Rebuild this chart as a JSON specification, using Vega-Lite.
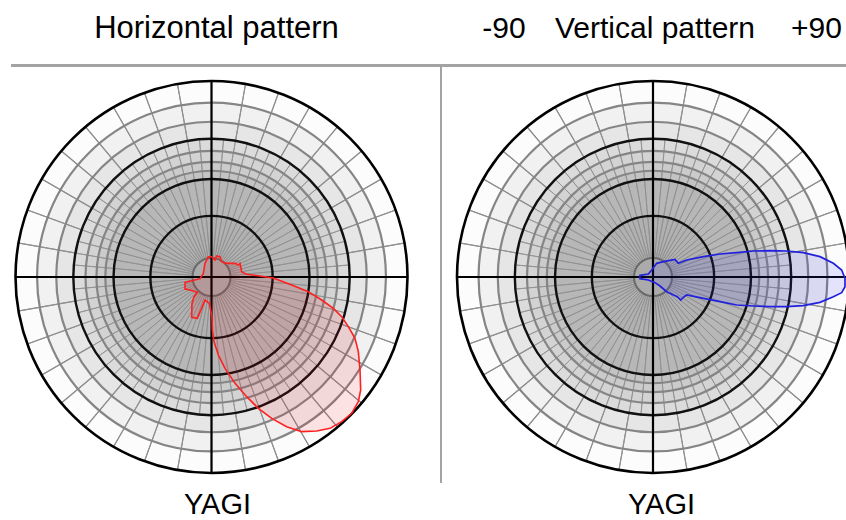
{
  "$schema": "https://vega.github.io/schema/vega-lite/v6.json",
  "width": 846,
  "height": 520,
  "autosize": "none",
  "padding": 0,
  "background": "white",
  "config": {"view": {"stroke": null}, "axis": {"disable": true}},
  "datasets": {
    "bands": [
      {"ri": 0.89, "ro": 1.0, "s": "A"},
      {"ri": 0.792, "ro": 0.89, "s": "B"},
      {"ri": 0.705, "ro": 0.792, "s": "C"},
      {"ri": 0.643, "ro": 0.705, "s": "D"},
      {"ri": 0.587, "ro": 0.643, "s": "E"},
      {"ri": 0.542, "ro": 0.587, "s": "F"},
      {"ri": 0.5, "ro": 0.542, "s": "G"},
      {"ri": 0.312, "ro": 0.5, "s": "H"},
      {"ri": 0.097, "ro": 0.312, "s": "I"},
      {"ri": 0, "ro": 0.097, "s": "J"}
    ],
    "rings": [
      {"r": 1.0, "k": "outer"},
      {"r": 0.89, "k": "minor"},
      {"r": 0.792, "k": "minor"},
      {"r": 0.705, "k": "major"},
      {"r": 0.643, "k": "minor"},
      {"r": 0.587, "k": "minor"},
      {"r": 0.542, "k": "minor"},
      {"r": 0.5, "k": "major"},
      {"r": 0.312, "k": "major"},
      {"r": 0.097, "k": "center"}
    ],
    "s5": [
      {"a":0,"b":5},{"a":5,"b":10},{"a":10,"b":15},{"a":15,"b":20},{"a":20,"b":25},{"a":25,"b":30},
      {"a":30,"b":35},{"a":35,"b":40},{"a":40,"b":45},{"a":45,"b":50},{"a":50,"b":55},{"a":55,"b":60},
      {"a":60,"b":65},{"a":65,"b":70},{"a":70,"b":75},{"a":75,"b":80},{"a":80,"b":85},{"a":85,"b":90},
      {"a":90,"b":95},{"a":95,"b":100},{"a":100,"b":105},{"a":105,"b":110},{"a":110,"b":115},{"a":115,"b":120},
      {"a":120,"b":125},{"a":125,"b":130},{"a":130,"b":135},{"a":135,"b":140},{"a":140,"b":145},{"a":145,"b":150},
      {"a":150,"b":155},{"a":155,"b":160},{"a":160,"b":165},{"a":165,"b":170},{"a":170,"b":175},{"a":175,"b":180},
      {"a":180,"b":185},{"a":185,"b":190},{"a":190,"b":195},{"a":195,"b":200},{"a":200,"b":205},{"a":205,"b":210},
      {"a":210,"b":215},{"a":215,"b":220},{"a":220,"b":225},{"a":225,"b":230},{"a":230,"b":235},{"a":235,"b":240},
      {"a":240,"b":245},{"a":245,"b":250},{"a":250,"b":255},{"a":255,"b":260},{"a":260,"b":265},{"a":265,"b":270},
      {"a":270,"b":275},{"a":275,"b":280},{"a":280,"b":285},{"a":285,"b":290},{"a":290,"b":295},{"a":295,"b":300},
      {"a":300,"b":305},{"a":305,"b":310},{"a":310,"b":315},{"a":315,"b":320},{"a":320,"b":325},{"a":325,"b":330},
      {"a":330,"b":335},{"a":335,"b":340},{"a":340,"b":345},{"a":345,"b":350},{"a":350,"b":355},{"a":355,"b":360}
    ],
    "s10": [
      {"a":0,"b":10},{"a":10,"b":20},{"a":20,"b":30},{"a":30,"b":40},{"a":40,"b":50},{"a":50,"b":60},
      {"a":60,"b":70},{"a":70,"b":80},{"a":80,"b":90},{"a":90,"b":100},{"a":100,"b":110},{"a":110,"b":120},
      {"a":120,"b":130},{"a":130,"b":140},{"a":140,"b":150},{"a":150,"b":160},{"a":160,"b":170},{"a":170,"b":180},
      {"a":180,"b":190},{"a":190,"b":200},{"a":200,"b":210},{"a":210,"b":220},{"a":220,"b":230},{"a":230,"b":240},
      {"a":240,"b":250},{"a":250,"b":260},{"a":260,"b":270},{"a":270,"b":280},{"a":280,"b":290},{"a":290,"b":300},
      {"a":300,"b":310},{"a":310,"b":320},{"a":320,"b":330},{"a":330,"b":340},{"a":340,"b":350},{"a":350,"b":360}
    ],
    "hLobe": [
      {"i":1,"x":-0.0162,"y":0.1037},{"i":2,"x":0.0009,"y":0.1037},{"i":3,"x":0.0179,"y":0.0867},
      {"i":4,"x":0.0264,"y":0.1071},{"i":5,"x":0.0434,"y":0.1037},{"i":6,"x":0.0519,"y":0.0782},
      {"i":7,"x":0.0774,"y":0.0697},{"i":8,"x":0.1199,"y":0.0697},{"i":9,"x":0.1369,"y":0.0612},
      {"i":10,"x":0.1454,"y":0.0697},{"i":11,"x":0.1539,"y":0.0272},{"i":12,"x":0.1794,"y":0.0136},
      {"i":13,"x":0.2474,"y":0.0051},{"i":14,"x":0.3155,"y":-0.0051},{"i":15,"x":0.409,"y":-0.0408},
      {"i":16,"x":0.494,"y":-0.0748},{"i":17,"x":0.5621,"y":-0.1173},{"i":18,"x":0.6216,"y":-0.1599},
      {"i":19,"x":0.6641,"y":-0.2024},{"i":20,"x":0.6981,"y":-0.2534},{"i":21,"x":0.7321,"y":-0.3129},
      {"i":22,"x":0.7491,"y":-0.381},{"i":23,"x":0.7577,"y":-0.4745},{"i":24,"x":0.7611,"y":-0.5765},
      {"i":25,"x":0.7491,"y":-0.6361},{"i":26,"x":0.7151,"y":-0.6956},{"i":27,"x":0.6641,"y":-0.7381},
      {"i":28,"x":0.6046,"y":-0.7721},{"i":29,"x":0.5366,"y":-0.7857},{"i":30,"x":0.46,"y":-0.7891},
      {"i":31,"x":0.3835,"y":-0.7636},{"i":32,"x":0.307,"y":-0.7211},{"i":33,"x":0.2389,"y":-0.6701},
      {"i":34,"x":0.1794,"y":-0.6105},{"i":35,"x":0.1199,"y":-0.5425},{"i":36,"x":0.0689,"y":-0.466},
      {"i":37,"x":0.0349,"y":-0.398},{"i":38,"x":0.0128,"y":-0.3299},{"i":39,"x":0.0043,"y":-0.2704},
      {"i":40,"x":0.0026,"y":-0.2024},{"i":41,"x":-0.0111,"y":-0.1344},{"i":42,"x":-0.0332,"y":-0.1173},
      {"i":43,"x":-0.0502,"y":-0.1599},{"i":44,"x":-0.0723,"y":-0.2109},{"i":45,"x":-0.1012,"y":-0.2058},
      {"i":46,"x":-0.0995,"y":-0.1344},{"i":47,"x":-0.0893,"y":-0.1003},{"i":48,"x":-0.0723,"y":-0.0782},
      {"i":49,"x":-0.1097,"y":-0.0663},{"i":50,"x":-0.1352,"y":-0.0612},{"i":51,"x":-0.1352,"y":-0.0272},
      {"i":52,"x":-0.1012,"y":-0.0187},{"i":53,"x":-0.0587,"y":-0.0085},{"i":54,"x":-0.0417,"y":0.0187},
      {"i":55,"x":-0.0332,"y":0.0697}
    ],
    "vLobe": [
      {"i":1,"x":-0.0663,"y":0.0085},{"i":2,"x":-0.0238,"y":0.0153},{"i":3,"x":-0.0068,"y":0.0357},
      {"i":4,"x":0.0187,"y":0.0697},{"i":5,"x":0.0527,"y":0.0782},{"i":6,"x":0.1122,"y":0.0901},
      {"i":7,"x":0.1293,"y":0.0697},{"i":8,"x":0.1718,"y":0.0867},{"i":9,"x":0.2568,"y":0.1037},
      {"i":10,"x":0.3418,"y":0.1173},{"i":11,"x":0.4269,"y":0.1241},{"i":12,"x":0.5119,"y":0.1327},
      {"i":13,"x":0.5969,"y":0.1344},{"i":14,"x":0.682,"y":0.1327},{"i":15,"x":0.767,"y":0.1241},
      {"i":16,"x":0.852,"y":0.1037},{"i":17,"x":0.9201,"y":0.0697},{"i":18,"x":0.9626,"y":0.0357},
      {"i":19,"x":0.9796,"y":-0.0068},{"i":20,"x":0.9796,"y":-0.0493},{"i":21,"x":0.9626,"y":-0.0799},
      {"i":22,"x":0.9201,"y":-0.1003},{"i":23,"x":0.852,"y":-0.1293},{"i":24,"x":0.767,"y":-0.1463},
      {"i":25,"x":0.682,"y":-0.1514},{"i":26,"x":0.5969,"y":-0.1514},{"i":27,"x":0.5119,"y":-0.148},
      {"i":28,"x":0.4269,"y":-0.1429},{"i":29,"x":0.3418,"y":-0.1259},{"i":30,"x":0.2568,"y":-0.1088},
      {"i":31,"x":0.1718,"y":-0.0918},{"i":32,"x":0.1548,"y":-0.1037},{"i":33,"x":0.1412,"y":-0.1173},
      {"i":34,"x":0.1241,"y":-0.1003},{"i":35,"x":0.1037,"y":-0.0918},{"i":36,"x":0.0697,"y":-0.0748},
      {"i":37,"x":0.0357,"y":-0.0459},{"i":38,"x":0.0102,"y":-0.0289},{"i":39,"x":-0.0238,"y":-0.0153},
      {"i":40,"x":-0.0663,"y":-0.0085}
    ]
  },
  "layer": [
    {
      "layer": [
        {
          "data": {"name": "bands"},
          "mark": {"type": "arc", "theta": 0, "theta2": 6.2832, "strokeWidth": 0},
          "encoding": {
            "x": {"datum": 0, "type": "quantitative", "scale": {"domain": [-1.0791, 3.2372], "nice": false, "zero": false}},
            "y": {"datum": 0, "type": "quantitative", "scale": {"domain": [-1.2398, 1.4133], "nice": false, "zero": false}},
            "radius": {"field": "ro", "type": "quantitative", "stack": null, "scale": {"type": "linear", "domain": [0, 1], "range": [0, 196], "zero": true}},
            "radius2": {"field": "ri"},
            "fill": {"field": "s", "type": "nominal", "legend": null, "scale": {"domain": ["A","B","C","D","E","F","G","H","I","J"], "range": ["#fcfcfc","#f1f1f1","#e6e6e6","#dbdbdb","#d3d3d3","#cbcbcb","#c3c3c3","#b7b7b7","#b1b1b1","#ababab"]}}
          }
        },
        {
          "data": {"name": "s5"},
          "mark": {"type": "arc", "filled": false, "stroke": "#8f8f8f", "strokeWidth": 0.8},
          "encoding": {
            "x": {"datum": 0, "type": "quantitative", "scale": {"domain": [-1.0791, 3.2372], "nice": false, "zero": false}},
            "y": {"datum": 0, "type": "quantitative"},
            "theta": {"field": "a", "type": "quantitative", "stack": null, "scale": {"domain": [0, 360], "range": [0, 6.283185307179586]}},
            "theta2": {"field": "b"},
            "radius": {"datum": 0.705, "type": "quantitative"},
            "radius2": {"datum": 0.097}
          }
        },
        {
          "data": {"name": "s10"},
          "mark": {"type": "arc", "filled": false, "stroke": "#8f8f8f", "strokeWidth": 1.1},
          "encoding": {
            "x": {"datum": 0, "type": "quantitative", "scale": {"domain": [-1.0791, 3.2372], "nice": false, "zero": false}},
            "y": {"datum": 0, "type": "quantitative"},
            "theta": {"field": "a", "type": "quantitative", "stack": null},
            "theta2": {"field": "b"},
            "radius": {"datum": 1.0, "type": "quantitative"},
            "radius2": {"datum": 0.705}
          }
        },
        {
          "data": {"name": "rings"},
          "mark": {"type": "arc", "filled": false, "theta": 0, "theta2": 6.2832},
          "encoding": {
            "x": {"datum": 0, "type": "quantitative", "scale": {"domain": [-1.0791, 3.2372], "nice": false, "zero": false}},
            "y": {"datum": 0, "type": "quantitative"},
            "radius": {"field": "r", "type": "quantitative", "stack": null},
            "radius2": {"datum": 0},
            "stroke": {"field": "k", "type": "nominal", "legend": null, "scale": {"domain": ["outer","major","minor","center"], "range": ["#000000","#111111","#858585","#6a6a6a"]}},
            "strokeWidth": {"field": "k", "type": "nominal", "legend": null, "scale": {"domain": ["outer","major","minor","center"], "range": [2.6, 2, 1.4, 1.4]}}
          }
        },
        {
          "data": {"values": [{"line": "horizontal axis"}]},
          "mark": {"type": "rule", "color": "#000000", "strokeWidth": 2.2},
          "encoding": {
            "x": {"datum": -1, "type": "quantitative", "scale": {"domain": [-1.0791, 3.2372], "nice": false, "zero": false}},
            "x2": {"datum": 1},
            "y": {"datum": 0, "type": "quantitative"}
          }
        },
        {
          "data": {"values": [{"line": "vertical axis"}]},
          "mark": {"type": "rule", "color": "#000000", "strokeWidth": 2.2},
          "encoding": {
            "x": {"datum": 0, "type": "quantitative", "scale": {"domain": [-1.0791, 3.2372], "nice": false, "zero": false}},
            "y": {"datum": -1, "type": "quantitative"},
            "y2": {"datum": 1}
          }
        },
        {
          "data": {"name": "hLobe"},
          "mark": {"type": "line", "interpolate": "linear-closed", "stroke": "#ff2020", "strokeWidth": 1.6, "fill": "#ff0000", "fillOpacity": 0.1},
          "encoding": {
            "x": {"field": "x", "type": "quantitative", "scale": {"domain": [-1.0791, 3.2372], "nice": false, "zero": false}},
            "y": {"field": "y", "type": "quantitative"},
            "order": {"field": "i"}
          }
        },
        {
          "data": {"values": [{"line": "header divider"}]},
          "mark": {"type": "rule", "color": "#a3a3a3", "strokeWidth": 3},
          "encoding": {
            "x": {"datum": -1.023, "type": "quantitative", "scale": {"domain": [-1.0791, 3.2372], "nice": false, "zero": false}},
            "x2": {"datum": 3.2372},
            "y": {"datum": 1.0791, "type": "quantitative"}
          }
        },
        {
          "data": {"values": [{"line": "panel divider"}]},
          "mark": {"type": "rule", "color": "#a3a3a3", "strokeWidth": 2},
          "encoding": {
            "x": {"datum": 1.1709, "type": "quantitative", "scale": {"domain": [-1.0791, 3.2372], "nice": false, "zero": false}},
            "y": {"datum": 1.0791, "type": "quantitative"},
            "y2": {"datum": -1.051}
          }
        },
        {
          "data": {"values": [{"label": "Horizontal pattern"}]},
          "mark": {"type": "text", "font": "Liberation Sans", "fontSize": 31, "align": "center", "baseline": "alphabetic", "color": "#000000"},
          "encoding": {
            "x": {"datum": 0.0255, "type": "quantitative", "scale": {"domain": [-1.0791, 3.2372], "nice": false, "zero": false}},
            "y": {"datum": 1.2179, "type": "quantitative"},
            "text": {"field": "label"}
          }
        },
        {
          "data": {"values": [{"label": "YAGI"}]},
          "mark": {"type": "text", "font": "Liberation Sans", "fontSize": 29, "align": "center", "baseline": "alphabetic", "color": "#000000"},
          "encoding": {
            "x": {"datum": 0.0306, "type": "quantitative", "scale": {"domain": [-1.0791, 3.2372], "nice": false, "zero": false}},
            "y": {"datum": -1.2075, "type": "quantitative"},
            "text": {"field": "label"}
          }
        }
      ]
    },
    {
      "layer": [
        {
          "data": {"name": "bands"},
          "mark": {"type": "arc", "theta": 0, "theta2": 6.2832, "strokeWidth": 0},
          "encoding": {
            "x": {"datum": 0, "type": "quantitative", "scale": {"domain": [-3.3316, 0.9847], "nice": false, "zero": false}},
            "y": {"datum": 0, "type": "quantitative"},
            "radius": {"field": "ro", "type": "quantitative", "stack": null},
            "radius2": {"field": "ri"},
            "fill": {"field": "s", "type": "nominal", "legend": null}
          }
        },
        {
          "data": {"name": "s5"},
          "mark": {"type": "arc", "filled": false, "stroke": "#8f8f8f", "strokeWidth": 0.8},
          "encoding": {
            "x": {"datum": 0, "type": "quantitative", "scale": {"domain": [-3.3316, 0.9847], "nice": false, "zero": false}},
            "y": {"datum": 0, "type": "quantitative"},
            "theta": {"field": "a", "type": "quantitative", "stack": null},
            "theta2": {"field": "b"},
            "radius": {"datum": 0.705, "type": "quantitative"},
            "radius2": {"datum": 0.097}
          }
        },
        {
          "data": {"name": "s10"},
          "mark": {"type": "arc", "filled": false, "stroke": "#8f8f8f", "strokeWidth": 1.1},
          "encoding": {
            "x": {"datum": 0, "type": "quantitative", "scale": {"domain": [-3.3316, 0.9847], "nice": false, "zero": false}},
            "y": {"datum": 0, "type": "quantitative"},
            "theta": {"field": "a", "type": "quantitative", "stack": null},
            "theta2": {"field": "b"},
            "radius": {"datum": 1.0, "type": "quantitative"},
            "radius2": {"datum": 0.705}
          }
        },
        {
          "data": {"name": "rings"},
          "mark": {"type": "arc", "filled": false, "theta": 0, "theta2": 6.2832},
          "encoding": {
            "x": {"datum": 0, "type": "quantitative", "scale": {"domain": [-3.3316, 0.9847], "nice": false, "zero": false}},
            "y": {"datum": 0, "type": "quantitative"},
            "radius": {"field": "r", "type": "quantitative", "stack": null},
            "radius2": {"datum": 0},
            "stroke": {"field": "k", "type": "nominal", "legend": null},
            "strokeWidth": {"field": "k", "type": "nominal", "legend": null}
          }
        },
        {
          "data": {"values": [{"line": "horizontal axis"}]},
          "mark": {"type": "rule", "color": "#000000", "strokeWidth": 2.2},
          "encoding": {
            "x": {"datum": -1, "type": "quantitative", "scale": {"domain": [-3.3316, 0.9847], "nice": false, "zero": false}},
            "x2": {"datum": 1},
            "y": {"datum": 0, "type": "quantitative"}
          }
        },
        {
          "data": {"values": [{"line": "vertical axis"}]},
          "mark": {"type": "rule", "color": "#000000", "strokeWidth": 2.2},
          "encoding": {
            "x": {"datum": 0, "type": "quantitative", "scale": {"domain": [-3.3316, 0.9847], "nice": false, "zero": false}},
            "y": {"datum": -1, "type": "quantitative"},
            "y2": {"datum": 1}
          }
        },
        {
          "data": {"name": "vLobe"},
          "mark": {"type": "line", "interpolate": "linear-closed", "stroke": "#2020dd", "strokeWidth": 1.7, "fill": "#3030ff", "fillOpacity": 0.12},
          "encoding": {
            "x": {"field": "x", "type": "quantitative", "scale": {"domain": [-3.3316, 0.9847], "nice": false, "zero": false}},
            "y": {"field": "y", "type": "quantitative"},
            "order": {"field": "i"}
          }
        },
        {
          "data": {"values": [{"label": "-90", "p": -0.7602}, {"label": "Vertical pattern", "p": 0.0102}, {"label": "+90", "p": 0.8342}]},
          "mark": {"type": "text", "font": "Liberation Sans", "fontSize": 30, "align": "center", "baseline": "alphabetic", "color": "#000000"},
          "encoding": {
            "x": {"field": "p", "type": "quantitative", "scale": {"domain": [-3.3316, 0.9847], "nice": false, "zero": false}},
            "y": {"datum": 1.2179, "type": "quantitative"},
            "text": {"field": "label"}
          }
        },
        {
          "data": {"values": [{"label": "YAGI"}]},
          "mark": {"type": "text", "font": "Liberation Sans", "fontSize": 29, "align": "center", "baseline": "alphabetic", "color": "#000000"},
          "encoding": {
            "x": {"datum": 0.0434, "type": "quantitative", "scale": {"domain": [-3.3316, 0.9847], "nice": false, "zero": false}},
            "y": {"datum": -1.2075, "type": "quantitative"},
            "text": {"field": "label"}
          }
        }
      ]
    }
  ],
  "resolve": {"scale": {"x": "independent"}}
}
